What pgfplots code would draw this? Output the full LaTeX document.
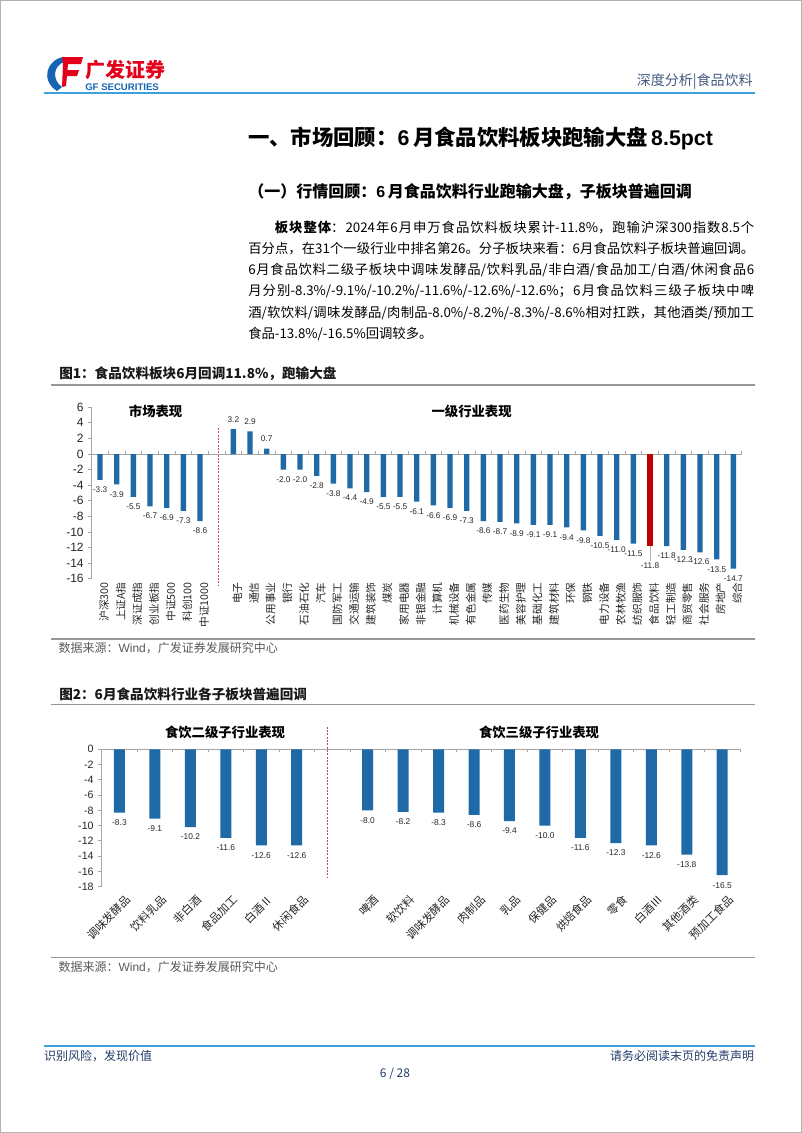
\documentclass[border=0pt]{standalone}
\usepackage{pgfplots}
\pgfplotsset{compat=1.18}
\usepackage{fontspec}
\setmainfont{Noto Sans CJK SC}
\newfontfamily\arial{Liberation Sans}
\XeTeXlinebreaklocale "zh"
\XeTeXlinebreakskip = 0pt plus 1pt
\definecolor{barblue}{RGB}{31,106,166}
\definecolor{barred}{RGB}{192,0,0}
\definecolor{sepred}{RGB}{205,70,70}
\definecolor{axisgray}{RGB}{165,165,165}
\definecolor{rulegray}{RGB}{150,150,150}
\definecolor{hdrblue}{RGB}{60,162,216}
\definecolor{navy}{RGB}{35,60,105}
\definecolor{textgray}{RGB}{90,90,90}
\definecolor{logored}{RGB}{226,0,26}
\definecolor{logoblue}{RGB}{22,100,180}
\newcommand{\fs}[2]{\fontsize{#1}{#2}\selectfont}
\begin{document}
\begin{tikzpicture}
\begin{scope}[x=0.75pt,y=-0.75pt]
\path (0,0) rectangle (802,1133);
\draw[gray!60, line width=1.1pt] (0.75,0.75) rectangle (801.25,1132.25);
% logo
\fill[logoblue] (63,57) .. controls (47,60) and (40,80) .. (57,91) -- (62,87) .. controls (52,80) and (53,66) .. (64,62) -- cycle;
\fill[logored] (62,57) -- (83,57) -- (81,64) -- (63,64) -- cycle;
\fill[logored] (64,70) -- (79,70) -- (77,76) -- (63,76) -- cycle;
\fill[logored] (63,64) -- (68,64) -- (66,86) -- (62,87) -- cycle;
\node[anchor=west, text=logored, font=\fs{15}{15}\bfseries, inner sep=0pt] at (85,70) {广发证券};
\node[anchor=west, text=logoblue, font=\arial\fs{7.2}{7.2}\bfseries, inner sep=0pt] at (85,87) {GF SECURITIES};
\node[anchor=east, text=navy!85, font=\fs{10.5}{11}, inner sep=0pt] at (753,82) {深度分析|食品饮料};
\draw[hdrblue, line width=1.6pt] (43.5,92.7) -- (755,92.7);
% titles
\node[anchor=west, font=\fs{16}{16}\bfseries, inner sep=0pt] at (248,138) {一、市场回顾：{\arial\bfseries 6}\,月食品饮料板块跑输大盘\,{\arial\bfseries 8.5pct}};
\node[anchor=west, font=\fs{12}{12}\bfseries, inner sep=0pt] at (248,191.7) {（一）行情回顾：{\arial\bfseries 6}\,月食品饮料行业跑输大盘，子板块普遍回调};
\node[anchor=north west, text width=379.5pt, align=justify, font=\fs{10}{15.9}, inner sep=0pt] at (248,220.6) {%
\hspace*{2em}{\bfseries 板块整体}：2024年6月申万食品饮料板块累计-11.8\%，跑输沪深300指数8.5个\linebreak
百分点，在31个一级行业中排名第26。分子板块来看：6月食品饮料子板块普遍回调。\linebreak
6月食品饮料二级子板块中调味发酵品/饮料乳品/非白酒/食品加工/白酒/休闲食品6\linebreak
月分别-8.3\%/-9.1\%/-10.2\%/-11.6\%/-12.6\%/-12.6\%；6月食品饮料三级子板块中啤\linebreak
酒/软饮料/调味发酵品/肉制品-8.0\%/-8.2\%/-8.3\%/-8.6\%相对扛跌，其他酒类/预加工\linebreak
食品-13.8\%/-16.5\%回调较多。};
% figure 1 frame
\node[anchor=west, font=\fs{10.2}{11}\bfseries, text=black!90, inner sep=0pt] at (59,373.3) {图1：食品饮料板块6月回调11.8\%，跑输大盘};
\draw[rulegray, line width=1.1pt] (51,385) -- (755,385);
\node[font=\fs{10}{10}\bfseries, inner sep=0pt] at (155.6,411.7) {市场表现};
\node[font=\fs{10}{10}\bfseries, inner sep=0pt] at (471.6,411.7) {一级行业表现};
\draw[rulegray, line width=1.1pt] (51,639) -- (755,639);
\node[anchor=west, font=\fs{9}{9}, text=textgray, inner sep=0pt] at (58.3,648.3) {数据来源：{\arial Wind}，广发证券发展研究中心};
% figure 2 frame
\node[anchor=west, font=\fs{10.2}{11}\bfseries, text=black!90, inner sep=0pt] at (59,694) {图2：6月食品饮料行业各子板块普遍回调};
\draw[rulegray, line width=1.1pt] (51,704.5) -- (755,704.5);
\node[font=\fs{10}{10}\bfseries, inner sep=0pt] at (225,732.7) {食饮二级子行业表现};
\node[font=\fs{10}{10}\bfseries, inner sep=0pt] at (539,732.7) {食饮三级子行业表现};
\draw[rulegray, line width=1.1pt] (51,957.3) -- (755,957.3);
\node[anchor=west, font=\fs{9}{9}, text=textgray, inner sep=0pt] at (58.3,966.6) {数据来源：{\arial Wind}，广发证券发展研究中心};
% footer
\draw[hdrblue, line width=1.6pt] (43.5,1045.7) -- (755,1045.7);
\node[anchor=west, font=\fs{9}{9}, text=navy, inner sep=0pt] at (43.8,1056) {识别风险，发现价值};
\node[anchor=east, font=\fs{9}{9}, text=navy, inner sep=0pt] at (754.5,1056) {请务必阅读末页的免责声明};
\node[font=\fs{9}{9}, text=navy, inner sep=0pt] at (395,1074) {6 / 28};
\end{scope}

% ---------- chart 1 ----------
\begin{axis}[
  at={(68.78pt,-434.1pt)}, anchor=south west,
  scale only axis, width=487.5pt, height=128.7pt,
  xmin=-0.5, xmax=38.5, ymin=-16, ymax=6,
  ybar, bar width=4pt, bar shift=0pt,
  axis y line*=left, axis x line*=bottom,
  x axis line style={draw=none},
  y axis line style={draw=axisgray, line width=0.6pt},
  ytick={-16,-14,...,6},
  ytick style={draw=axisgray, line width=0.6pt},
  tick align=outside, major tick length=2.5pt,
  xtick={0,...,38}, xtick style={draw=none},
  xticklabels={沪深300,上证A指,深证成指,创业板指,中证500,科创100,中证1000,,电子,通信,公用事业,银行,石油石化,汽车,国防军工,交通运输,建筑装饰,煤炭,家用电器,非银金融,计算机,机械设备,有色金属,传媒,医药生物,美容护理,基础化工,建筑材料,环保,钢铁,电力设备,农林牧渔,纺织服饰,食品饮料,轻工制造,商贸零售,社会服务,房地产,综合},
  xticklabel style={rotate=90, anchor=east, font=\fs{8}{8}, text=black!85, inner sep=0pt, yshift=-3pt},
  yticklabel style={font=\arial\fs{9}{9}, text=black!85},
  /pgf/number format/assume math mode=true,
  clip=false,
  nodes near coords={\pgfmathprintnumber[fixed,fixed zerofill,precision=1]{\pgfplotspointmeta}},
  nodes near coords align=vertical,
  every node near coord/.append style={font=\arial\fs{6.2}{6.2}, text=black!85, inner xsep=0pt, inner ysep=5pt},
]
\draw[axisgray, line width=0.6pt] (axis cs:-0.5,0) -- (axis cs:38.5,0);
\pgfplotsinvokeforeach{-0.5,0.5,...,38.5}{\draw[axisgray, line width=0.5pt] (axis cs:#1,0) -- ++(0pt,2pt);}
\draw[sepred, line width=0.6pt, dash pattern=on 1.5pt off 1pt] (axis cs:7.1,3.33) -- (axis cs:7.1,-16.8);
\addplot[fill=barblue, draw=none, bar shift=0pt] coordinates {
(0,-3.3) (1,-3.9) (2,-5.5) (3,-6.7) (4,-6.9) (5,-7.3) (6,-8.6)
(8,3.2) (9,2.9) (10,0.7) (11,-2.0) (12,-2.0) (13,-2.8) (14,-3.8) (15,-4.4) (16,-4.9) (17,-5.5) (18,-5.5)
(19,-6.1) (20,-6.6) (21,-6.9) (22,-7.3) (23,-8.6) (24,-8.7) (25,-8.9) (26,-9.1) (27,-9.1) (28,-9.4)
(29,-9.8) (30,-10.5) (31,-11.0) (32,-11.5) (34,-11.8) (35,-12.3) (36,-12.6) (37,-13.5) (38,-14.7)
};
\draw[gray!60, line width=0.4pt] (axis cs:33,-11.8) -- (axis cs:33,-13.7);
\addplot[fill=barred, draw=none, bar shift=0pt, nodes near coords style={yshift=-7.5pt}] coordinates {(33,-11.8)};
\end{axis}

% ---------- chart 2 ----------
\begin{axis}[
  at={(76.28pt,-665.0pt)}, anchor=south west,
  scale only axis, width=478.7pt, height=103.05pt,
  xmin=-0.5, xmax=17.5, ymin=-18, ymax=0,
  ybar, bar width=8.25pt, bar shift=0pt,
  axis y line*=left, axis x line*=bottom,
  x axis line style={draw=none},
  y axis line style={draw=axisgray, line width=0.6pt},
  ytick={-18,-16,...,0},
  ytick style={draw=axisgray, line width=0.6pt},
  tick align=outside, major tick length=2.5pt,
  xtick={0,...,17}, xtick style={draw=none},
  xticklabels={调味发酵品,饮料乳品,非白酒,食品加工,白酒Ⅱ,休闲食品,,啤酒,软饮料,调味发酵品,肉制品,乳品,保健品,烘焙食品,零食,白酒Ⅲ,其他酒类,预加工食品},
  xticklabel style={rotate=45, anchor=east, font=\fs{8.4}{8.4}, text=black!85, inner sep=0pt, yshift=-9pt, xshift=1pt},
  yticklabel style={font=\arial\fs{8}{8}, text=black!85},
  /pgf/number format/assume math mode=true,
  clip=false,
  nodes near coords={\pgfmathprintnumber[fixed,fixed zerofill,precision=1]{\pgfplotspointmeta}},
  nodes near coords align=vertical,
  every node near coord/.append style={font=\arial\fs{6.3}{6.3}, text=black!85, inner xsep=0pt, inner ysep=5pt},
]
\draw[axisgray, line width=0.6pt] (axis cs:-0.5,0) -- (axis cs:17.5,0);
\pgfplotsinvokeforeach{-0.5,0.5,...,17.5}{\draw[axisgray, line width=0.5pt] (axis cs:#1,0) -- ++(0pt,-2pt);}
\draw[sepred, line width=0.6pt, dash pattern=on 1.5pt off 1pt] (axis cs:5.87,2.96) -- (axis cs:5.87,-16.7);
\addplot[fill=barblue, draw=none, bar shift=0pt] coordinates {
(0,-8.3) (1,-9.1) (2,-10.2) (3,-11.6) (4,-12.6) (5,-12.6)
(7,-8.0) (8,-8.2) (9,-8.3) (10,-8.6) (11,-9.4) (12,-10.0) (13,-11.6) (14,-12.3) (15,-12.6) (16,-13.8) (17,-16.5)
};
\end{axis}
\end{tikzpicture}
\end{document}
